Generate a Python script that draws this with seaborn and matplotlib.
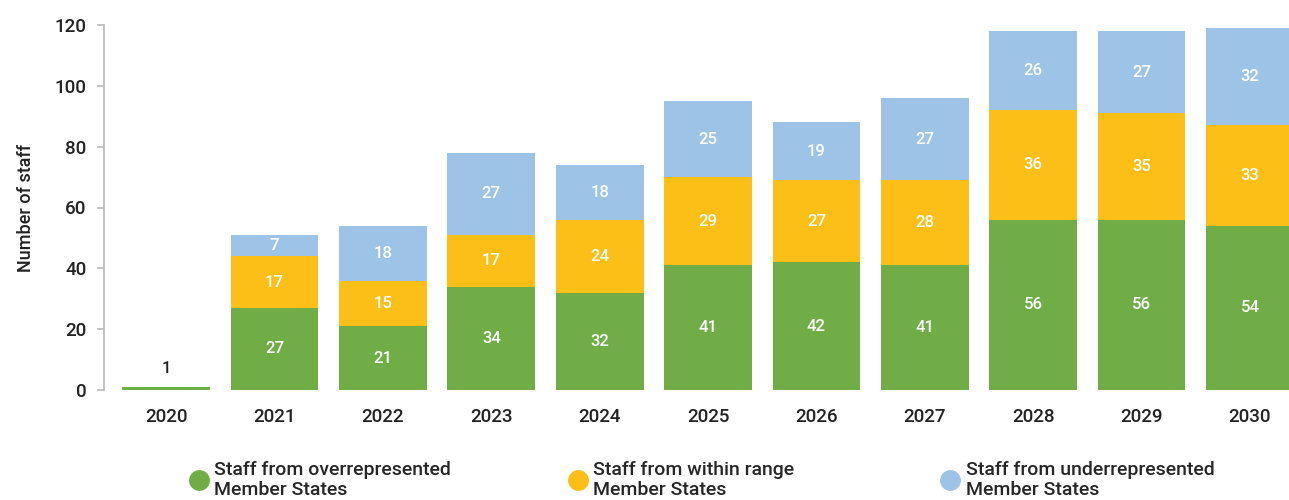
import numpy as np
import pandas as pd
import matplotlib.pyplot as plt
import seaborn as sns
from matplotlib.lines import Line2D

years = ['2020', '2021', '2022', '2023', '2024', '2025', '2026', '2027', '2028', '2029', '2030']
over = [1, 27, 21, 34, 32, 41, 42, 41, 56, 56, 54]
within = [0, 17, 15, 17, 24, 29, 27, 28, 36, 35, 33]
under = [0, 7, 18, 27, 18, 25, 19, 27, 26, 27, 32]

labels = ['Staff from overrepresented\nMember States',
          'Staff from within range\nMember States',
          'Staff from underrepresented\nMember States']
colors = ['#70AD47', '#FBBF17', '#9DC3E6']

sns.set_theme(style='white')
plt.rcParams['font.family'] = ['Roboto', 'DejaVu Sans']

df = pd.DataFrame({'year': years, 'over': over, 'within': within, 'under': under})
df['s1'] = df['over']
df['s2'] = df['over'] + df['within']
df['s3'] = df['s2'] + df['under']

fig = plt.figure(figsize=(12.89, 5), dpi=100)
ax = fig.add_axes([0.081, 0.22, 0.919, 0.73])

# cumulative layers drawn back to front
for col, c in zip(['s3', 's2', 's1'], colors[::-1]):
    sns.barplot(data=df, x='year', y=col, color=c, width=0.81, saturation=1,
                edgecolor='none', ax=ax)

for i, row in df.iterrows():
    parts = [(row['over'], 0), (row['within'], row['s1']), (row['under'], row['s2'])]
    for v, base in parts:
        if v == 0:
            continue
        if v < 3:
            ax.text(i, base + v + 6, str(v), ha='center', va='center',
                    fontsize=12, color='#222222', fontweight='medium')
        else:
            ax.text(i, base + v / 2, str(v), ha='center', va='center',
                    fontsize=12, color='white', fontweight='medium')

ax.set_xlim(-0.57, 10.36)
ax.set_ylim(0, 120)
ax.set_yticks(range(0, 121, 20))
ax.set_xlabel('')
ax.set_ylabel('Number of staff', fontsize=13, color='#222222', labelpad=14,
              fontweight='medium')
for s in ['top', 'right', 'bottom']:
    ax.spines[s].set_visible(False)
ax.spines['left'].set_color('#BBBBBB')
ax.tick_params(axis='y', left=True, length=5, color='#BBBBBB', labelsize=13.5,
               labelcolor='#222222', pad=8)
ax.tick_params(axis='x', bottom=False, labelsize=13.5, labelcolor='#222222', pad=7)
for t in ax.get_xticklabels() + ax.get_yticklabels():
    t.set_fontweight('medium')

# one legend per entry so each sits where the reference puts it
legend_x = [0.145, 0.439, 0.728]
for h_color, lab, lx in zip(colors, labels, legend_x):
    h = Line2D([], [], marker='o', linestyle='none', markersize=15,
               markerfacecolor=h_color, markeredgecolor='none')
    leg = fig.legend([h], [lab], loc='center left', bbox_to_anchor=(lx, 0.04),
                     frameon=False, fontsize=14, handletextpad=0.2,
                     handlelength=1.2, borderaxespad=0, borderpad=0,
                     labelspacing=0.3)
    for t in leg.get_texts():
        t.set_fontweight('medium')

fig.savefig('out.png', dpi=100)
